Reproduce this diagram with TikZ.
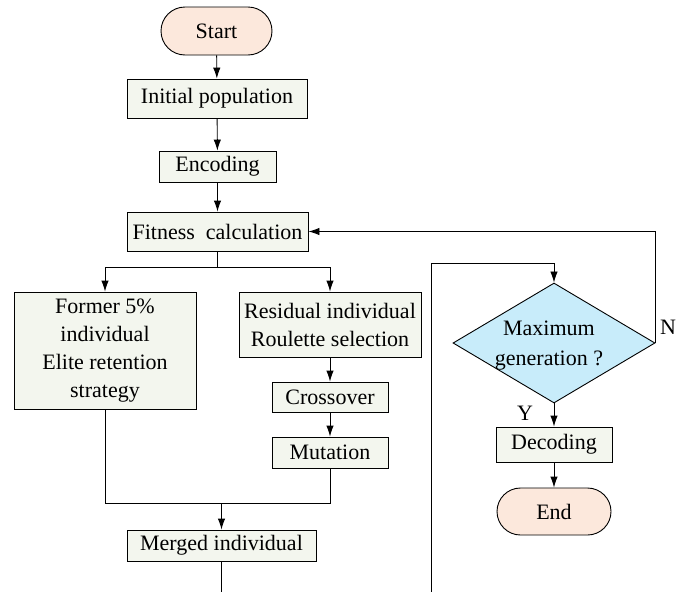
\documentclass[tikz,border=0pt]{standalone}
\usepackage{fontspec}
\setmainfont{Liberation Serif}
\usetikzlibrary{arrows.meta,shapes.geometric,shapes.misc}
\definecolor{boxfill}{RGB}{243,246,238}
\definecolor{termfill}{RGB}{252,232,220}
\definecolor{decfill}{RGB}{200,236,250}
\begin{document}
\begin{tikzpicture}[x=1pt,y=-1pt,
  line width=0.9pt,
  txt/.style={font=\fontsize{22}{28}\selectfont},
  stepbox/.style={txt,draw,fill=boxfill,inner sep=0pt,align=center},
  term/.style={txt,draw,fill=termfill,rounded rectangle,inner sep=0pt},
  decision/.style={draw,fill=decfill,diamond,inner sep=0pt,minimum width=202pt,minimum height=120pt},
  arr/.style={-{Latex[length=11pt,width=7.5pt]}}]
\useasboundingbox (0,0) rectangle (689,592);
\node[term,minimum width=111pt,minimum height=48pt] (start) at (216.5,31) {Start};
\node[stepbox,minimum width=180pt,minimum height=39pt] (init) at (217,98.5) {Initial population};
\node[stepbox,minimum width=117pt,minimum height=31pt] (enc) at (217.5,166.5) {Encoding};
\node[stepbox,minimum width=181pt,minimum height=39pt] (fit) at (217.5,231.5) {Fitness\ \ calculation};
\node[stepbox,minimum width=182pt,minimum height=117pt] (former) at (105,350.5) {Former 5\%\\individual\\Elite retention\\strategy};
\node[stepbox,minimum width=182pt,minimum height=65pt] (resid) at (330,324.5) {Residual individual\\Roulette selection};
\node[stepbox,minimum width=116pt,minimum height=30pt] (cross) at (330,397) {Crossover};
\node[stepbox,minimum width=116pt,minimum height=31pt] (mut) at (330,452.5) {Mutation};
\node[stepbox,minimum width=189pt,minimum height=31pt] (merged) at (221.5,545.5) {Merged individual};
\node[decision] (dec) at (554,343) {};
\node[txt,align=center,inner sep=0pt] (dectext) at (549,346) {Maximum\\[2pt]generation ?};
\node[stepbox,minimum width=116pt,minimum height=35pt] (decod) at (554,444.5) {Decoding};
\node[term,minimum width=114pt,minimum height=47pt] (end) at (554,511.5) {End};
\node[txt,inner sep=0pt] (ylab) at (525,413) {Y};
\node[txt,inner sep=0pt] (nlab) at (668,327) {N};
\coordinate (split) at (217.5,267);
\coordinate (join) at (221.5,503);
\coordinate (bot1) at (221.5,592);
\coordinate (bot2) at (431,592);
\coordinate (looptop) at (431,263);
\draw[arr] (start) -- (init);
\draw[arr] (init) -- (enc);
\draw[arr] (enc) -- (fit);
\draw (fit) -- (split);
\draw[arr] (split) -| (former);
\draw[arr] (split) -| (resid);
\draw[arr] (resid) -- (cross);
\draw[arr] (cross) -- (mut);
\draw (former.south) |- (mut.south |- join) -- (mut.south);
\draw[arr] (join) -- (merged);
\draw (merged) -- (bot1);
\draw[arr] (bot2) -- (looptop) -| (dec);
\draw[arr] (dec.east) |- (fit.east);
\draw[arr] (dec) -- (decod);
\draw[arr] (decod) -- (end);
\end{tikzpicture}
\end{document}
